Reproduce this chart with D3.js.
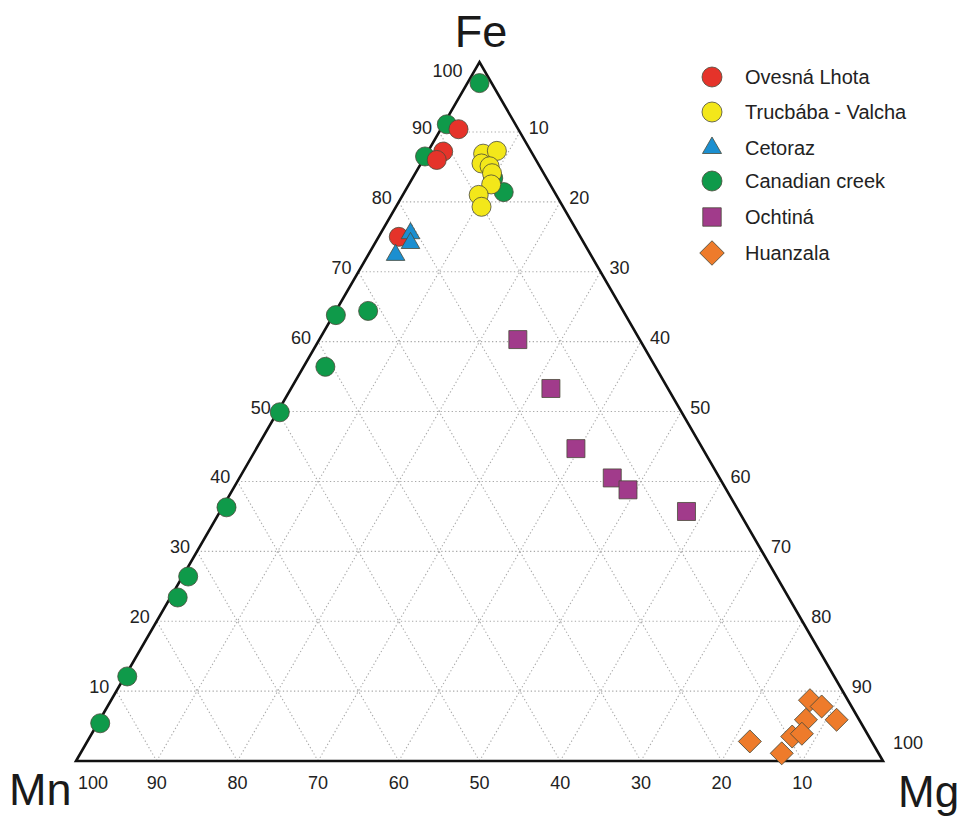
<!DOCTYPE html>
<html><head><meta charset="utf-8">
<script src="https://cdn.jsdelivr.net/npm/d3@7"></script>
<style>
html,body{margin:0;padding:0;background:#fff;}
svg{display:block;font-family:"Liberation Sans",Arial,Helvetica,sans-serif;}
</style></head>
<body>
<svg id="chart" width="962" height="818"></svg>
<script>
// ---- Data: [Fe, Mg, Mn] in percent ----
const seriesNames = ["Ovesná Lhota","Trucbába - Valcha","Cetoraz","Canadian creek","Ochtiná","Huanzala"];
const ovesnaLhota = [[90.4,2.2,7.4],[87.2,1.9,10.9],[86.0,1.7,12.3],[75.0,2.5,22.5]];
const trucbabaValcha = [[86.9,7.0,6.1],[87.3,8.5,4.2],[85.5,7.5,7.0],[85.1,8.7,6.2],[84.1,9.5,6.4],[82.5,10.2,7.3],[81.0,9.4,9.6],[79.3,10.6,10.1]];
const cetoraz = [[75.5,3.7,20.8],[74.1,4.4,21.5],[72.4,3.4,24.2]];
const canadianCreek = [[97.0,1.5,1.5],[91.1,0.4,8.5],[86.5,0.0,13.5],[83.4,10.0,6.6],[81.4,12.3,6.3],[63.8,0.3,35.9],[64.4,4.0,31.6],[56.4,2.7,40.9],[49.9,0.3,49.8],[36.3,0.5,63.2],[26.4,0.7,72.9],[23.4,0.9,75.7],[12.1,0.3,87.6],[5.4,0.3,94.3]];
const ochtina = [[60.3,24.6,15.1],[53.3,32.2,14.5],[44.7,39.6,15.7],[40.5,46.2,13.3],[38.8,49.0,12.2],[35.7,57.8,6.5]];
const huanzala = [[8.7,86.6,4.7],[7.8,88.5,3.7],[5.9,91.3,2.8],[5.9,87.5,6.6],[3.5,87.0,9.5],[3.9,88.0,8.1],[2.8,82.1,15.1],[1.1,86.9,12.0]];
const tickValues = [10,20,30,40,50,60,70,80,90,100];
const gridValues = [10,20,30,40,50,60,70,80,90];

// ---- Layout ----
const svg = d3.select("#chart");
const triLeft = 76, triRight = 883, triBottom = 761, triTop = triBottom - (triRight-triLeft)*Math.sqrt(3)/2;
const xS = d3.scaleLinear().domain([0,100]).range([triLeft,triRight]);   // Mg + Fe/2
const yS = d3.scaleLinear().domain([0,100]).range([triBottom,triTop]);   // Fe
const px = (fe,mg) => [xS(mg + fe/2), yS(fe)];

// grid
const gridG = svg.append("g").attr("fill","none").attr("stroke","#a9a9a9")
  .attr("stroke-width",1.1).attr("stroke-dasharray","1.3 2.4");
const line = d3.line();
gridValues.forEach(v=>{
  gridG.append("path").attr("d", line([px(v,0), px(v,100-v)]));          // const Fe
  gridG.append("path").attr("d", line([px(0,v), px(100-v,v)]));          // const Mg
  gridG.append("path").attr("d", line([px(0,100-v), px(100-v,0)]));      // const Mn
});

// triangle frame
svg.append("path").attr("d", line([px(100,0), px(0,0), px(0,100)]) + "Z")
  .attr("fill","none").attr("stroke","#111").attr("stroke-width",2.6).attr("stroke-linejoin","miter");

// tick labels
const tl = svg.append("g").attr("fill","#222").attr("font-size",18);
tickValues.forEach(v=>{
  let [x,y] = px(v,0);
  if (v===100) tl.append("text").attr("x",x-17).attr("y",y+15).attr("text-anchor","end").text(v);
  else tl.append("text").attr("x",x-7).attr("y",y+2).attr("text-anchor","end").text(v);
  [x,y] = px(100-v, v);
  if (v===100) tl.append("text").attr("x",x+10).attr("y",y-12).text(v);
  else tl.append("text").attr("x",x+9).attr("y",y+2).text(v);
  [x,y] = px(0,100-v);
  if (v===100) tl.append("text").attr("x",x+2).attr("y",triBottom+28).text(v);
  else tl.append("text").attr("x",x).attr("y",triBottom+28).attr("text-anchor","middle").text(v);
});

// corner labels
const cl = svg.append("g").attr("fill","#1a1a1a").attr("font-size",45);
cl.append("text").attr("x",481).attr("y",47).attr("text-anchor","middle").text("Fe");
cl.append("text").attr("x",9).attr("y",805).text("Mn");
cl.append("text").attr("x",898).attr("y",807).attr("font-size",44).text("Mg");

// symbols
const styles = [
  {data:canadianCreek, name:seriesNames[3], fill:"#0f9a4a", type:d3.symbolCircle, size:285, rot:0},
  {data:ovesnaLhota, name:seriesNames[0], fill:"#e5332a", type:d3.symbolCircle, size:285, rot:0},
  {data:trucbabaValcha, name:seriesNames[1], fill:"#f3e71a", type:d3.symbolCircle, size:285, rot:0},
  {data:cetoraz, name:seriesNames[2], fill:"#1b8fd0", type:d3.symbolTriangle, size:150, rot:0},
  {data:ochtina, name:seriesNames[4], fill:"#a13b8b", type:d3.symbolSquare, size:324, rot:0},
  {data:huanzala, name:seriesNames[5], fill:"#ee7b2b", type:d3.symbolSquare, size:265, rot:45}
];
const ptG = svg.append("g");
styles.forEach(s=>{
  ptG.selectAll(null).data(s.data).enter().append("path")
    .attr("d", d3.symbol().type(s.type).size(s.size))
    .attr("transform", d=>{const [x,y]=px(d[0],d[1]); return `translate(${x},${y}) rotate(${s.rot})`;})
    .attr("fill", s.fill).attr("stroke","#4a4a3a").attr("stroke-width",0.8);
});

// legend
const legOrder = [1,2,3,0,4,5];
const legY = [77,112,148,181,217,253];
const lg = svg.append("g");
legOrder.forEach((si,i)=>{
  const s = styles[si];
  const g = lg.append("g").attr("transform",`translate(712,${legY[i]})`);
  g.append("path").attr("d", d3.symbol().type(s.type).size(s.type===d3.symbolCircle?314:(s.rot?300:s.size*1.05)))
    .attr("transform",`rotate(${s.rot})`)
    .attr("fill",s.fill).attr("stroke","#4a4a3a").attr("stroke-width",0.8);
  g.append("text").attr("x",33).attr("y",7).attr("font-size",20).attr("fill","#222").text(s.name);
});
</script>
</body></html>
